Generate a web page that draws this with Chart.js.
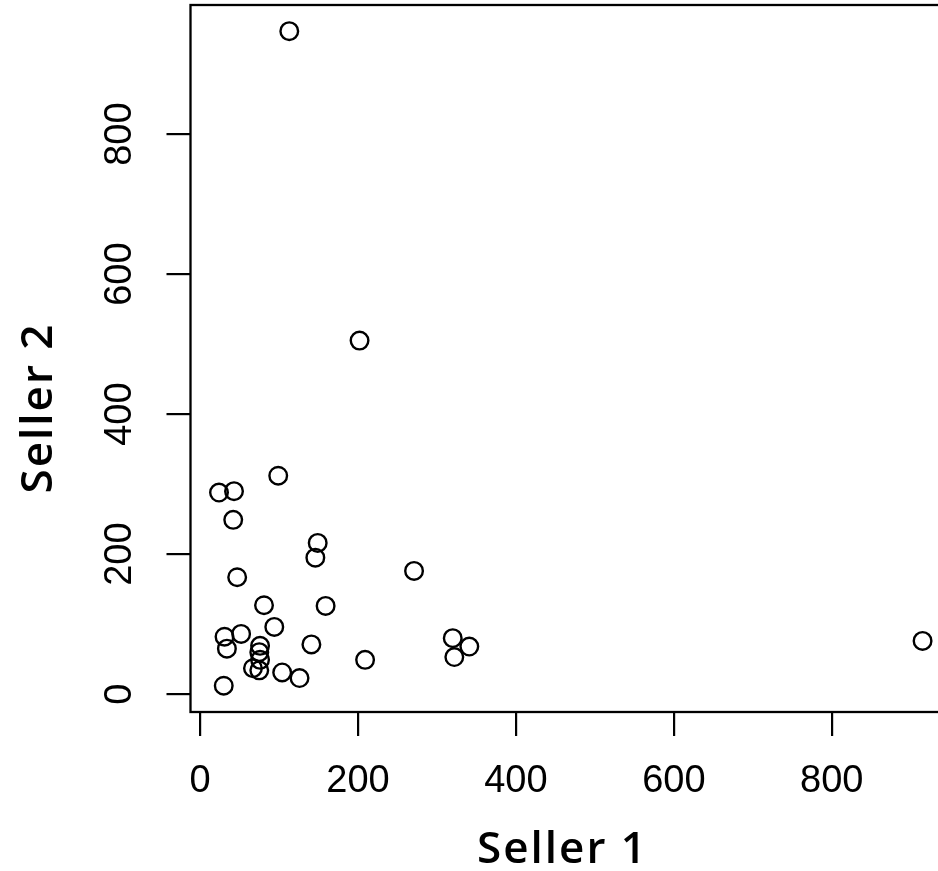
<!DOCTYPE html>
<html>
<head>
<meta charset="utf-8">
<script src="https://cdn.jsdelivr.net/npm/chart.js@4"></script>
<style>
    html, body { margin: 0; padding: 0; background: #fff; overflow: hidden; }
    #wrap { width: 960px; height: 871px; }
</style>
</head>
<body>
<div id="wrap"><canvas id="scatter"></canvas></div>
<script>
// values
const seller1 = [113, 202, 99, 24, 43, 42, 149, 146, 271, 47, 81, 159, 94, 52, 31, 34, 141, 320, 341, 322, 915, 76, 75, 76, 67, 75, 209, 104, 126, 30];
const seller2 = [947, 505, 312, 288, 290, 249, 216, 195, 176, 167, 127, 126, 96, 86, 82, 65, 71, 80, 68, 53, 76, 69, 60, 49, 37, 34, 49, 31, 23, 12];
const xTicks = [0, 200, 400, 600, 800];
const yTicks = [0, 200, 400, 600, 800];
const xTitle = "Seller 1";
const yTitle = "Seller 2";

const points = seller1.map((x, i) => ({ x: x, y: seller2[i] }));

// R style box + axis titles
const frame = {
    id: "frame",
    afterDraw(c) {
        const ctx = c.ctx;
        const a = c.chartArea;
        ctx.save();
        ctx.strokeStyle = "#000";
        ctx.lineWidth = 2.3;
        ctx.strokeRect(a.left, a.top, a.right - a.left, a.bottom - a.top);

        ctx.fillStyle = "#000";
        ctx.font = "600 44px 'Open Sans'";
        ctx.letterSpacing = "2px";
        ctx.textAlign = "center";
        ctx.textBaseline = "alphabetic";
        ctx.fillText(xTitle, a.left + 372, 863);

        ctx.translate(51.5, a.top + 403);
        ctx.rotate(-Math.PI / 2);
        ctx.fillText(yTitle, 0, 0);
        ctx.restore();
    }
};

const tickFont = { family: "'Liberation Sans', Arial, sans-serif", size: 38, lineHeight: 1.2 };

new Chart(document.getElementById("scatter"), {
    type: "scatter",
    data: {
        datasets: [{
            data: points,
            pointStyle: "circle",
            pointRadius: 8.8,
            pointHoverRadius: 8.8,
            pointBorderWidth: 2.4,
            pointBorderColor: "#000",
            pointBackgroundColor: "rgba(0,0,0,0)"
        }]
    },
    options: {
        responsive: true,
        maintainAspectRatio: false,
        animation: false,
        layout: { autoPadding: false, padding: { left: 0, top: 5, right: 9, bottom: 0 } },
        plugins: {
            legend: { display: false },
            tooltip: { enabled: false }
        },
        scales: {
            x: {
                type: "linear",
                min: -12.1,
                max: 951,
                afterBuildTicks: s => { s.ticks = xTicks.map(v => ({ value: v })); },
                afterFit: s => { s.height = 159; s.paddingLeft = 0; s.paddingRight = 0; },
                border: { display: false },
                grid: { drawOnChartArea: false, drawTicks: true, tickLength: 24, color: "#000", lineWidth: 2.2 },
                ticks: { color: "#000", font: tickFont, padding: 23, autoSkip: false, maxRotation: 0 }
            },
            y: {
                type: "linear",
                min: -25.5,
                max: 984.4,
                afterBuildTicks: s => { s.ticks = yTicks.map(v => ({ value: v })); },
                afterFit: s => { s.width = 190.5; s.paddingTop = 0; s.paddingBottom = 0; },
                border: { display: false },
                grid: { drawOnChartArea: false, drawTicks: true, tickLength: 24, color: "#000", lineWidth: 2.2 },
                ticks: { color: "#000", font: tickFont, padding: 14, autoSkip: false, minRotation: 90, maxRotation: 90, crossAlign: "center" }
            }
        }
    },
    plugins: [frame]
});
</script>
</body>
</html>
